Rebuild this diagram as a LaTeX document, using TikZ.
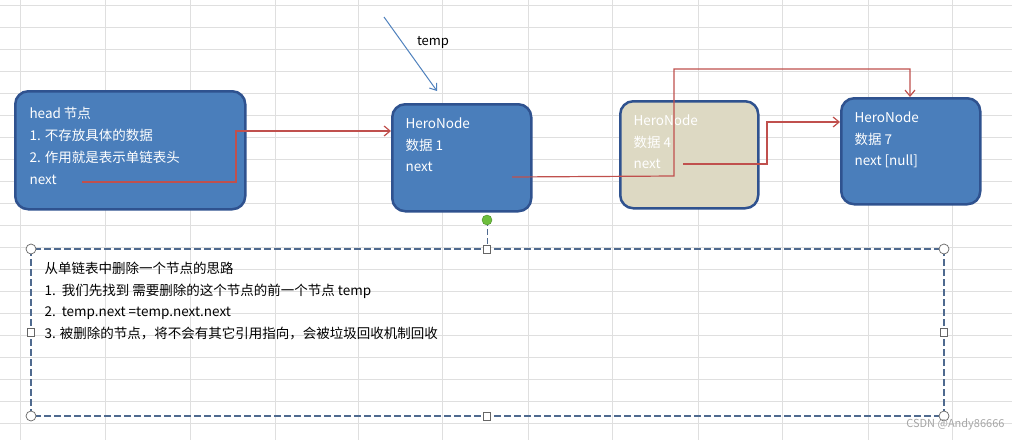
\documentclass[tikz,border=0pt]{standalone}
\usepackage{fontspec}
\setmainfont{Noto Sans CJK SC}
\usetikzlibrary{arrows.meta}
\definecolor{boxblue}{HTML}{4A7EBB}
\definecolor{boxborder}{HTML}{2F528F}
\definecolor{beige}{HTML}{DDD9C3}
\definecolor{linkred}{HTML}{C0504D}
\definecolor{ptrblue}{HTML}{4F81BD}
\definecolor{dashblue}{HTML}{4F6A8F}
\definecolor{dotgreen}{HTML}{6DBE3C}
\definecolor{dotgreenb}{HTML}{4A8A2A}
\begin{document}
\begin{tikzpicture}[x=1pt,y=-1pt,
  hero/.style={draw=boxborder, line width=2.5pt, rounded corners=13pt, fill=boxblue, anchor=north west, inner sep=0pt},
  txt/.style={anchor=west, text=white, align=left, font=\fontsize{13.5}{21.5}\selectfont},
  link/.style={draw=linkred, line width=1.2pt, -{Straight Barb[length=6pt,width=10pt]}},
  handle/.style={draw=gray!80!black, fill=white, line width=0.7pt}]
\useasboundingbox (0,0) rectangle (1012,440);
\fill[white] (0,0) rectangle (1012,440);
% grid
\foreach \x in {20,105,190,275,358,442,528,612,698,782,868,952}
  \draw[gray!25, line width=0.8pt] (\x,0) -- (\x,440);
\foreach \y in {5,27,49,71,93,115,137,159,181,203,225,247,269,291,313,335,357,379,401,423}
  \draw[gray!25, line width=0.8pt] (0,\y) -- (1012,\y);
% nodes
\node[hero, minimum width=230pt, minimum height=118pt] (head) at (14,90) {};
\node[txt, font=\fontsize{13.5}{22}\selectfont] (headtxt) at (26,146) {head 节点\\1. 不存放具体的数据\\2. 作用就是表示单链表头\\next};
\node[hero, minimum width=139pt, minimum height=107pt] (n1) at (391,103) {};
\node[txt] (n1txt) at (402,145) {HeroNode\\数据 1\\next};
\node[hero, fill=beige, minimum width=138pt, minimum height=107pt] (n4) at (619,100) {};
\node[txt] (n4txt) at (630,142) {HeroNode\\数据 4\\next};
\node[hero, minimum width=139pt, minimum height=106pt] (n7) at (840,97) {};
\node[txt] (n7txt) at (851,140) {HeroNode\\数据 7\\next [null]};
% temp pointer
\coordinate (tstart) at (384,17);
\coordinate (tend) at (437,91);
\draw[draw=ptrblue, line width=1pt, -{Straight Barb[length=6pt,width=9pt]}] (tstart) -- (tend);
\node[font=\fontsize{13}{15}\selectfont] (templ) at (433,42) {temp};
% links
\coordinate (hnext) at (82,182);
\draw[link] (hnext) -- (236,182) -- (236,131) -- (n1.west |- 0,131);
\coordinate (n1next) at (512,177);
\draw[link] (n1next) -- (674,176) -- (674,69) -- (910,69) -- (n7.north -| 910,0);
\coordinate (n4next) at (683,164);
\draw[link] (n4next) -- (767,164) -- (767,122) -- (n7.west |- 0,122);
% text box
\draw[dashblue, dash pattern=on 6pt off 3pt, line width=1pt] (487,220) -- (487,249);
\draw[dashblue, dash pattern=on 7pt off 3pt, line width=1.1pt] (31,249) rectangle (944,416);
\filldraw[fill=dotgreen, draw=dotgreenb] (487,220) circle (5pt);
\foreach \p in {(31,249),(944,249),(31,416),(944,416)} \filldraw[handle] \p circle (5pt);
\foreach \p in {(487,249),(31,332),(944,332),(487,416)} \filldraw[handle] \p ++(-3.5,-4) rectangle ++(7,8);
\node[anchor=west, align=left, font=\fontsize{13.5}{21.8}\selectfont] (desc) at (41,301) {从单链表中删除一个节点的思路\\1.\ \ 我们先找到 需要删除的这个节点的前一个节点 temp\\2.\ \ temp.next =temp.next.next\\3. 被删除的节点，将不会有其它引用指向，会被垃圾回收机制回收};
\node[anchor=east, text=gray!70, font=\fontsize{11}{13}\selectfont] (wm) at (1008,424) {CSDN @Andy86666};
\end{tikzpicture}
\end{document}
